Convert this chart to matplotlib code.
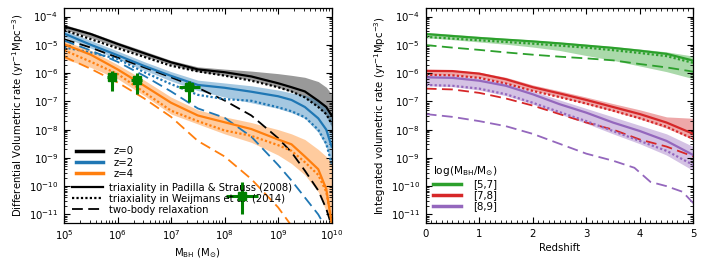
import numpy as np
import matplotlib
matplotlib.use("Agg")
import matplotlib.pyplot as plt
from matplotlib.lines import Line2D
from matplotlib.ticker import FixedLocator, MultipleLocator, NullFormatter, LogFormatterMathtext

plt.rcParams['font.family'] = ['DejaVu Sans']
plt.rcParams['font.size'] = 7.3
plt.rcParams['mathtext.default'] = 'regular'

# ---------------- left panel data (log10 of rate) ----------------
log_mbh = [5.0, 5.5, 6.0, 6.5, 7.0, 7.5, 8.0, 8.5, 9.0, 9.25, 9.5, 9.75, 9.9, 10.0]

z0_padilla = [-4.35, -4.62, -4.97, -5.30, -5.62, -5.87, -5.97, -6.12, -6.36, -6.50, -6.65, -6.98, -7.20, -7.50]
z0_weijmans = [-4.48, -4.80, -5.12, -5.43, -5.74, -5.94, -6.09, -6.27, -6.50, -6.65, -6.86, -7.20, -7.45, -7.80]
z0_band_hi = [-4.28, -4.56, -4.90, -5.22, -5.55, -5.78, -5.86, -5.93, -6.02, -6.08, -6.15, -6.30, -6.50, -6.75]
z0_band_lo = [-4.45, -4.75, -5.08, -5.40, -5.70, -5.95, -6.08, -6.25, -6.50, -6.66, -6.86, -7.20, -7.50, -7.90]
z0_twobody = [-4.80, -5.10, -5.45, -5.80, -6.15, -6.52, -6.97, -7.50, -8.30, -8.80, -9.45, -10.15, -10.80, -11.40]

z2_padilla = [-4.60, -5.00, -5.37, -5.75, -6.10, -6.42, -6.52, -6.66, -6.82, -6.95, -7.20, -7.60, -8.00, -8.60]
z2_weijmans = [-5.09, -5.27, -5.50, -5.97, -6.39, -6.77, -6.92, -6.98, -7.21, -7.35, -7.56, -8.00, -8.50, -9.20]
z2_band_hi = [-4.48, -4.85, -5.22, -5.60, -5.95, -6.25, -6.35, -6.45, -6.60, -6.70, -6.78, -6.95, -7.15, -7.60]
z2_band_lo = [-4.72, -5.12, -5.50, -5.90, -6.28, -6.62, -6.85, -7.05, -7.25, -7.40, -7.60, -8.10, -8.60, -9.30]
z2_twobody = [-4.85, -5.20, -5.60, -6.10, -6.65, -7.25, -7.58, -8.25, -9.25, -9.80, -10.40, -11.00, -11.50, -12.00]

z4_padilla = [-4.98, -5.35, -5.87, -6.45, -7.05, -7.50, -7.74, -7.98, -8.35, -8.52, -8.95, -9.40, -10.10, -11.30]
z4_weijmans = [-5.19, -5.60, -6.03, -6.68, -7.33, -7.70, -8.03, -8.22, -8.55, -8.75, -9.15, -9.60, -10.20, -11.20]
z4_band_hi = [-4.86, -5.20, -5.70, -6.25, -6.85, -7.30, -7.55, -7.75, -8.00, -8.15, -8.35, -8.70, -8.95, -9.20]
z4_band_lo = [-5.50, -5.80, -6.20, -6.80, -7.45, -7.80, -8.15, -8.45, -8.90, -9.20, -9.60, -10.20, -10.90, -11.50]
z4_twobody = [-5.42, -5.85, -6.33, -6.90, -7.55, -8.40, -8.95, -9.75, -10.75, -11.40, -12.00, -12.50, -12.80, -13.00]

# observational points
obs_log_mbh = [5.89, 6.36, 7.34, 8.33]
obs_log_mbh_err = [0.09, 0.10, 0.20, 0.30]
obs_log_rate = [-6.13, -6.23, -6.48, -10.35]
obs_log_rate_hi = [-5.92, -5.98, -6.27, -9.86]
obs_log_rate_lo = [-6.62, -6.74, -7.03, -10.97]

# ---------------- right panel data (log10 of rate) ----------------
redshift = [0, 0.5, 1, 1.5, 2, 2.5, 3, 3.5, 4, 4.5, 5]

m57_padilla = [-4.62, -4.69, -4.76, -4.82, -4.88, -4.95, -5.03, -5.11, -5.21, -5.32, -5.56]
m57_weijmans = [-4.72, -4.78, -4.84, -4.90, -4.96, -5.03, -5.10, -5.19, -5.29, -5.40, -5.64]
m57_band_hi = [-4.56, -4.63, -4.70, -4.77, -4.83, -4.90, -4.98, -5.06, -5.15, -5.25, -5.40]
m57_band_lo = [-4.75, -4.82, -4.90, -4.98, -5.08, -5.20, -5.38, -5.55, -5.75, -5.95, -6.20]
m57_twobody = [-5.01, -5.10, -5.18, -5.27, -5.35, -5.42, -5.48, -5.55, -5.68, -5.80, -5.95]

m78_padilla = [-5.92, -5.93, -6.02, -6.22, -6.50, -6.72, -6.95, -7.20, -7.45, -7.75, -8.15]
m78_weijmans = [-6.06, -6.08, -6.17, -6.37, -6.63, -6.85, -7.08, -7.33, -7.60, -7.90, -8.33]
m78_band_hi = [-5.88, -5.89, -5.97, -6.15, -6.42, -6.63, -6.85, -7.08, -7.30, -7.55, -7.60]
m78_band_lo = [-6.05, -6.07, -6.16, -6.35, -6.62, -6.85, -7.10, -7.35, -7.62, -7.95, -8.35]
m78_twobody = [-6.55, -6.58, -6.70, -6.90, -7.15, -7.45, -7.75, -8.00, -8.35, -8.60, -8.95]

m89_padilla = [-6.15, -6.17, -6.27, -6.45, -6.75, -7.10, -7.40, -7.75, -8.05, -8.40, -8.90]
m89_weijmans = [-6.42, -6.45, -6.55, -6.75, -7.05, -7.38, -7.70, -8.05, -8.40, -8.75, -9.25]
m89_band_hi = [-6.05, -6.07, -6.17, -6.35, -6.63, -6.95, -7.25, -7.55, -7.85, -8.15, -8.60]
m89_band_lo = [-6.45, -6.48, -6.60, -6.80, -7.10, -7.45, -7.78, -8.15, -8.50, -8.90, -9.45]
redshift_m89_twobody = [0, 0.5, 1, 1.5, 2, 2.5, 3, 3.2, 3.5, 3.9, 4.2, 4.5, 4.8, 5]
m89_twobody = [-7.45, -7.55, -7.70, -7.88, -8.15, -8.50, -8.85, -8.95, -9.10, -9.35, -9.85, -10.00, -10.20, -10.60]

z_labels = ['z=0', 'z=2', 'z=4']
mass_labels = ['[5,7]', '[7,8]', '[8,9]']
style_labels = ['triaxiality in Padilla & Strauss (2008)',
                'triaxiality in Weijmans et al. (2014)',
                'two-body relaxation']
y_tick_exps = [-11, -10, -9, -8, -7, -6, -5, -4]
x_tick_exps = [5, 6, 7, 8, 9, 10]

C_BLACK, C_BLUE, C_ORANGE = 'black', '#1f77b4', '#ff7f0e'
C_GREEN, C_RED, C_PURPLE = '#2ca02c', '#d62728', '#9467bd'


def p(v):
    return 10.0 ** np.asarray(v, dtype=float)


def minor_log(lo, hi):
    out = []
    for e in range(int(np.floor(np.log10(lo))), int(np.ceil(np.log10(hi))) + 1):
        for s in range(2, 10):
            v = s * 10.0 ** e
            if lo <= v <= hi:
                out.append(v)
    return out


fig = plt.figure(figsize=(7.06, 2.67), dpi=100)
axL = fig.add_axes([0.0907, 0.165, 0.379, 0.805])
axR = fig.add_axes([0.603, 0.165, 0.379, 0.805])

YLIM = (5e-12, 2e-4)
LW = 1.6
DOT = (0, (1, 1))
DASH = (0, (6, 3))
mass = p(log_mbh)
groups = [
    (C_BLACK, z0_padilla, z0_weijmans, z0_band_hi, z0_band_lo, z0_twobody),
    (C_BLUE, z2_padilla, z2_weijmans, z2_band_hi, z2_band_lo, z2_twobody),
    (C_ORANGE, z4_padilla, z4_weijmans, z4_band_hi, z4_band_lo, z4_twobody),
]
for col, sol, dot, hi, lo, dash in groups:
    axL.fill_between(mass, p(lo), p(hi), color=col, alpha=0.4, lw=0)
    axL.plot(mass, p(sol), color=col, lw=LW, ls='-')
    axL.plot(mass, p(dot), color=col, lw=LW, ls=DOT)
    axL.plot(mass, p(dash), color=col, lw=1.3, ls=DASH)

ox = p(obs_log_mbh)
oy = p(obs_log_rate)
xerr = [ox - p(np.array(obs_log_mbh) - np.array(obs_log_mbh_err)),
        p(np.array(obs_log_mbh) + np.array(obs_log_mbh_err)) - ox]
yerr = [oy - p(obs_log_rate_lo), p(obs_log_rate_hi) - oy]
axL.errorbar(ox, oy, xerr=xerr, yerr=yerr, fmt='s', color='green', ms=6,
             elinewidth=2.2, capsize=0, zorder=5)

axL.set_xscale('log')
axL.set_yscale('log')
axL.set_xlim(1e5, 1e10)
axL.set_ylim(*YLIM)
axL.set_xlabel(r'M$_{\rm BH}$ (M$_{\odot}$)', labelpad=3)
axL.set_ylabel(r'Differential Volumetric rate (yr$^{-1}$Mpc$^{-3}$)', labelpad=2)
axL.xaxis.set_major_locator(FixedLocator(p(x_tick_exps)))
axL.xaxis.set_major_formatter(LogFormatterMathtext())
axL.xaxis.set_minor_locator(FixedLocator(minor_log(1e5, 1e10)))
axL.xaxis.set_minor_formatter(NullFormatter())

h1 = [Line2D([], [], color=c, lw=2.5) for c in (C_BLACK, C_BLUE, C_ORANGE)]
leg1 = axL.legend(h1, z_labels, loc='lower left', bbox_to_anchor=(0.02, 0.172),
                  frameon=False, handlelength=2.6, handletextpad=1.1,
                  labelspacing=0.12, borderpad=0.2, fontsize=7.3)
axL.add_artist(leg1)
h2 = [Line2D([], [], color='black', lw=LW, ls='-'),
      Line2D([], [], color='black', lw=LW, ls=DOT),
      Line2D([], [], color='black', lw=1.3, ls=DASH)]
axL.legend(h2, style_labels, loc='lower left', bbox_to_anchor=(0.0, 0.0),
           frameon=False, handlelength=3.1, handletextpad=0.6,
           labelspacing=0.12, borderpad=0.3, fontsize=7.2)

rgroups = [
    (C_GREEN, m57_padilla, m57_weijmans, m57_band_hi, m57_band_lo, redshift, m57_twobody),
    (C_RED, m78_padilla, m78_weijmans, m78_band_hi, m78_band_lo, redshift, m78_twobody),
    (C_PURPLE, m89_padilla, m89_weijmans, m89_band_hi, m89_band_lo, redshift_m89_twobody, m89_twobody),
]
for col, sol, dot, hi, lo, zd, dash in rgroups:
    axR.fill_between(redshift, p(lo), p(hi), color=col, alpha=0.4, lw=0)
    axR.plot(redshift, p(sol), color=col, lw=LW, ls='-')
    axR.plot(redshift, p(dot), color=col, lw=LW, ls=DOT)
    axR.plot(zd, p(dash), color=col, lw=1.3, ls=DASH)

axR.set_yscale('log')
axR.set_xlim(0, 5)
axR.set_ylim(*YLIM)
axR.set_xlabel('Redshift', labelpad=3)
axR.set_ylabel(r'Integrated volumetric rate (yr$^{-1}$Mpc$^{-3}$)', labelpad=2)
axR.xaxis.set_major_locator(MultipleLocator(1))
axR.xaxis.set_minor_locator(MultipleLocator(0.1))
h3 = [Line2D([], [], color=c, lw=2.5) for c in (C_GREEN, C_RED, C_PURPLE)]
axR.legend(h3, mass_labels, loc='lower left', bbox_to_anchor=(0.0, 0.02),
           title=r'log(M$_{\rm BH}$/M$_{\odot}$)', frameon=False,
           handlelength=2.7, handletextpad=1.2, labelspacing=0.12,
           borderpad=0.2, fontsize=7.3, title_fontsize=7.6)

for ax in (axL, axR):
    ax.yaxis.set_major_locator(FixedLocator(p(y_tick_exps)))
    ax.yaxis.set_major_formatter(LogFormatterMathtext())
    ax.yaxis.set_minor_locator(FixedLocator(minor_log(*YLIM)))
    ax.yaxis.set_minor_formatter(NullFormatter())
    ax.tick_params(which='both', direction='in', top=True, right=True, labelsize=7.3)
    ax.tick_params(which='major', length=4, width=0.8, pad=4)
    ax.tick_params(which='minor', length=2, width=0.6)
    for s in ax.spines.values():
        s.set_linewidth(0.9)

fig.savefig('out.png', dpi=100)
